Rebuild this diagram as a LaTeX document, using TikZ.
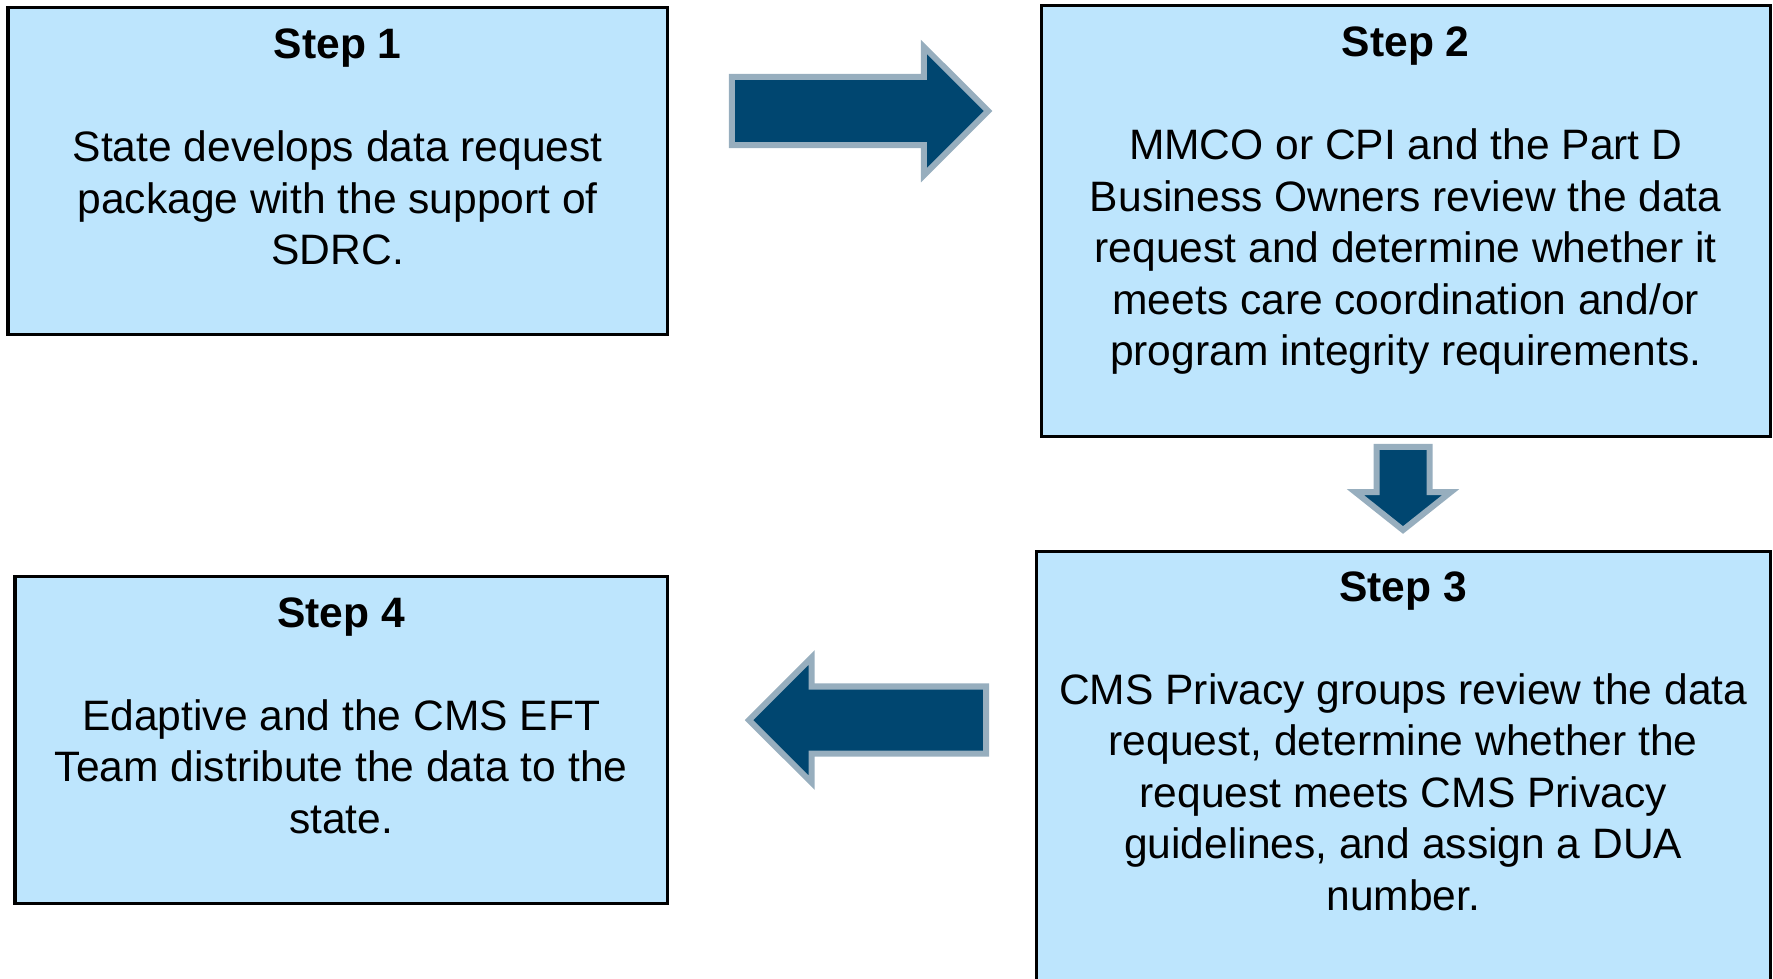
\documentclass[tikz,border=0pt]{standalone}
\usepackage{fontspec}
\setmainfont{Liberation Sans}
\usepackage{xcolor}
\usetikzlibrary{positioning, shapes.arrows}
\definecolor{boxblue}{HTML}{BDE5FD}
\definecolor{arrowblue}{HTML}{004670}
\definecolor{arrowedge}{HTML}{97AEBE}

\begin{document}
\begin{tikzpicture}[x=0.01cm, y=-0.01cm,
    stepbox/.style={rectangle, draw=black, fill=boxblue, line width=0.03cm, inner sep=0pt, outer sep=0pt, anchor=north west},
    steptext/.style={align=center, inner sep=0pt, outer sep=0pt, font=\fontsize{12.1}{14.65}\selectfont},
    blockarrow/.style={single arrow, draw=arrowedge, fill=arrowblue, line width=0.06cm, inner xsep=0pt, outer sep=0pt, single arrow head indent=0pt, anchor=tip}]
    \useasboundingbox (0,0) rectangle (1773,978);
    \clip (0,0) rectangle (1773,978);
    \node[stepbox, minimum width=6.59cm, minimum height=3.27cm] (S1) at (8,7) {};
    \node[stepbox, minimum width=7.29cm, minimum height=4.31cm] (S2) at (1041,5) {};
    \node[stepbox, minimum width=7.34cm, minimum height=4.60cm] (S3) at (1036,551) {};
    \node[stepbox, minimum width=6.52cm, minimum height=3.27cm] (S4) at (15,576) {};
    \node[steptext] (T1) [below=0.22cm of S1.north] {\textbf{Step 1}\\[14.65pt]
        State develops data request\\package with the support of\\SDRC.};
    \node[steptext] (T2) [below=0.22cm of S2.north] {\textbf{Step 2}\\[14.65pt]
        MMCO or CPI and the Part D\\Business Owners review the data\\request and determine whether it\\meets care coordination and/or\\program integrity requirements.};
    \node[steptext] (T3) [below=0.205cm of S3.north] {\textbf{Step 3}\\[14.65pt]
        CMS Privacy groups review the data\\request, determine whether the\\request meets CMS Privacy\\guidelines, and assign a DUA\\number.};
    \node[steptext] (T4) [below=0.215cm of S4.north] {\textbf{Step 4}\\[14.65pt]
        Edaptive and the CMS EFT\\Team distribute the data to the\\state.};
    \node[blockarrow, minimum height=2.56cm, inner ysep=0.31cm, single arrow head extend=0.30cm] (A12) at (988,111) {};
    \node[blockarrow, minimum height=0.83cm, inner ysep=0.235cm, single arrow head extend=0.21cm, single arrow tip angle=103, rotate=-90] (A23) at (1403,530) {};
    \node[blockarrow, minimum height=2.37cm, inner ysep=0.305cm, single arrow head extend=0.29cm, rotate=180] (A34) at (749,720) {};
\end{tikzpicture}
\end{document}
